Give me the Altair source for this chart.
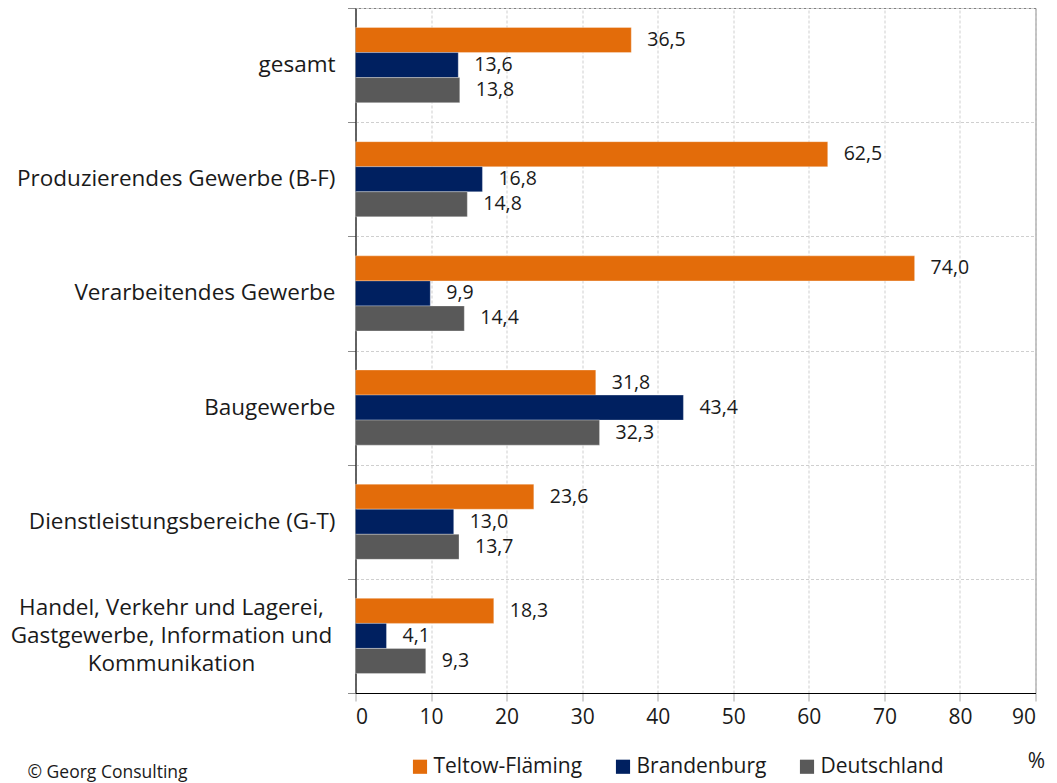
import altair as alt
import pandas as pd

# Branches (y axis, top to bottom) and the three regions compared
categories = [
    "gesamt",
    "Produzierendes Gewerbe (B-F)",
    "Verarbeitendes Gewerbe",
    "Baugewerbe",
    "Dienstleistungsbereiche (G-T)",
    "Handel, Verkehr und Lagerei,\nGastgewerbe, Information und\nKommunikation",
]
series_names = ["Teltow-Fläming", "Brandenburg", "Deutschland"]
series_colors = ["#E36C0A", "#002060", "#595959"]

# Values in percent
teltow = [36.5, 62.5, 74.0, 31.8, 23.6, 18.3]
brandenburg = [13.6, 16.8, 9.9, 43.4, 13.0, 4.1]
deutschland = [13.8, 14.8, 14.4, 32.3, 13.7, 9.3]

x_ticks = list(range(0, 91, 10))

rows = []
for vals, name in zip([teltow, brandenburg, deutschland], series_names):
    for cat, v in zip(categories, vals):
        rows.append({"cat": cat, "series": name, "value": v})
df = pd.DataFrame(rows)

FONT = "Open Sans"
GRID = "#CFCFCF"
TEXT = "#1a1a1a"

y_enc = alt.Y(
    "cat:N",
    sort=categories,
    scale=alt.Scale(paddingInner=0, paddingOuter=0),
    axis=alt.Axis(
        title=None,
        labels=False,
        tickBand="extent",
        grid=True,
        gridDash=[3, 2],
        gridColor=GRID,
        domainColor="black",
        tickColor="#8C8C8C",
        tickSize=8,
    ),
)
yoff_enc = alt.YOffset(
    "series:N",
    sort=series_names,
    scale=alt.Scale(paddingInner=0, paddingOuter=0.78),
)
x_enc = alt.X(
    "value:Q",
    scale=alt.Scale(domain=[0, 90], nice=False),
    axis=alt.Axis(
        title=None,
        values=x_ticks,
        grid=True,
        gridDash=[3, 2],
        gridColor=GRID,
        domainColor="black",
        tickColor="#A6A6A6",
        tickSize=8,
        labelFont=FONT,
        labelFontSize=21,
        labelColor=TEXT,
        labelPadding=5,
    ),
)

base = alt.Chart(df)

bars = base.mark_bar(stroke="white", strokeWidth=0.6, strokeOpacity=0.5).encode(
    y=y_enc,
    yOffset=yoff_enc,
    x=x_enc,
    color=alt.Color(
        "series:N",
        sort=series_names,
        scale=alt.Scale(domain=series_names, range=series_colors),
        legend=alt.Legend(
            title=None,
            orient="none",
            direction="horizontal",
            legendX=54,
            legendY=748,
            symbolType="square",
            symbolSize=200,
            symbolStrokeWidth=0,
            symbolOpacity=1,
            labelFont=FONT,
            labelFontSize=21,
            labelColor=TEXT,
            labelOffset=3,
            columnPadding=30,
        ),
    ),
)

# Value labels with decimal comma
values_text = base.mark_text(
    align="left", baseline="middle", dx=16, font=FONT, fontSize=19.5, color=TEXT
).transform_calculate(
    label="replace(format(datum.value, '.1f'), '.', ',')"
).encode(
    y=alt.Y("cat:N", sort=categories),
    yOffset=alt.YOffset("series:N", sort=series_names),
    x="value:Q",
    text="label:N",
)

# Category labels left of the axis
cat_df = pd.DataFrame({"cat": categories})
single = cat_df[~cat_df["cat"].str.contains("\n")]
multi = cat_df[cat_df["cat"].str.contains("\n")]

cat_single = alt.Chart(single).mark_text(
    align="right", baseline="middle", font=FONT, fontSize=22.5, color=TEXT
).encode(y=alt.Y("cat:N", sort=categories), x=alt.value(-20), text="cat:N")

cat_multi = alt.Chart(multi).mark_text(
    align="center", baseline="middle", font=FONT, fontSize=22.5, color=TEXT,
    lineBreak="\n", lineHeight=28, dy=-28,
).encode(y=alt.Y("cat:N", sort=categories), x=alt.value(-184), text="cat:N")

# Unit and source notes
unit = alt.Chart(pd.DataFrame({"t": ["%"]})).mark_text(
    align="center", baseline="middle", font=FONT, fontSize=21, color=TEXT
).encode(x=alt.value(681), y=alt.value(754), text="t:N")

source = alt.Chart(pd.DataFrame({"t": ["© Georg Consulting"]})).mark_text(
    align="left", baseline="alphabetic", font=FONT, fontSize=17.5, color=TEXT
).encode(x=alt.value(-328), y=alt.value(770), text="t:N")

chart = alt.layer(bars, values_text, cat_single, cat_multi, unit, source).properties(
    width=680,
    height=685,
    autosize=alt.AutoSizeParams(type="none"),
    padding={"left": 355.5, "top": 8, "right": 21.5, "bottom": 90},
).configure_view(
    stroke="#808080", strokeWidth=1
).resolve_scale(y="shared")

chart.save("out.html", embed_options={"renderer": "svg", "actions": False})
